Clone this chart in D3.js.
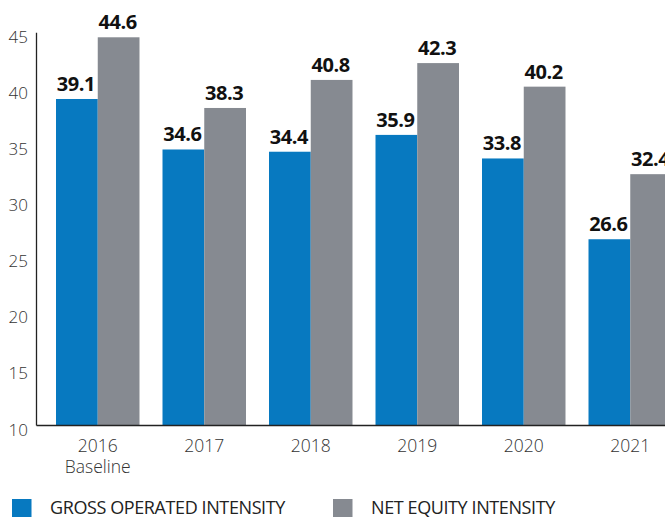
<!DOCTYPE html>
<html>
<head>
<meta charset="utf-8">
<script src="https://cdn.jsdelivr.net/npm/d3@7"></script>
<style>
  body { margin: 0; background: #fff; }
  svg { display: block; font-family: "Open Sans", "Noto Sans", sans-serif; }
</style>
</head>
<body>
<div id="chart"></div>
<script>
const years = ["2016", "2017", "2018", "2019", "2020", "2021"];
const subLabels = ["Baseline", "", "", "", "", ""];
const grossOperated = [39.1, 34.6, 34.4, 35.9, 33.8, 26.6];
const netEquity = [44.6, 38.3, 40.8, 42.3, 40.2, 32.4];
const yTicks = [10, 15, 20, 25, 30, 35, 40, 45];
const seriesNames = ["GROSS OPERATED INTENSITY", "NET EQUITY INTENSITY"];
const seriesColors = ["#0779c0", "#868a91"];

const width = 665, height = 518;
const axisX = 36.5;

const svg = d3.select("#chart").append("svg")
    .attr("width", width)
    .attr("height", height);

const y = d3.scaleLinear().domain([10, 45]).range([425.5, 32.8]);

const x = d3.scaleBand()
    .domain(years)
    .range([44.5, 683.5])
    .paddingInner(0.216)
    .paddingOuter(0.108);

const xSub = d3.scaleBand()
    .domain([0, 1])
    .range([0, x.bandwidth()]);

// bars + value labels
const series = [grossOperated, netEquity];
series.forEach((values, s) => {
    const g = svg.append("g");
    g.selectAll("rect")
        .data(values)
        .enter()
        .append("rect")
        .attr("x", (d, i) => x(years[i]) + xSub(s))
        .attr("width", xSub.bandwidth())
        .attr("y", d => y(d))
        .attr("height", d => y(10) - y(d))
        .attr("fill", seriesColors[s]);

    g.selectAll("text")
        .data(values)
        .enter()
        .append("text")
        .attr("x", (d, i) => x(years[i]) + xSub(s) + xSub.bandwidth() / 2 - 1)
        .attr("y", d => y(d) - 8)
        .attr("text-anchor", "middle")
        .attr("font-size", "20px")
        .attr("font-weight", "bold")
        .attr("letter-spacing", "-0.4px")
        .attr("fill", "#111")
        .text(d => d.toFixed(1));
});

// axis lines
svg.append("line")
    .attr("x1", axisX).attr("x2", axisX)
    .attr("y1", y(45)).attr("y2", y(10))
    .attr("stroke", "#222").attr("stroke-width", 1.3);
svg.append("line")
    .attr("x1", axisX).attr("x2", width)
    .attr("y1", y(10)).attr("y2", y(10))
    .attr("stroke", "#222").attr("stroke-width", 1.3);

// y tick labels
svg.append("g")
    .selectAll("text")
    .data(yTicks)
    .enter()
    .append("text")
    .attr("x", 28)
    .attr("y", d => y(d) + 10)
    .attr("text-anchor", "end")
    .attr("font-size", "17px")
    .attr("font-weight", 300)
    .attr("fill", "#333")
    .text(d => d);

// x labels
const xl = svg.append("g");
xl.selectAll("text.yr")
    .data(years)
    .enter()
    .append("text")
    .attr("class", "yr")
    .attr("x", d => x(d) + x.bandwidth() / 2)
    .attr("y", 452)
    .attr("text-anchor", "middle")
    .attr("font-size", "17.5px")
    .attr("font-weight", 300)
    .attr("fill", "#333")
    .text(d => d);
xl.selectAll("text.sub")
    .data(years)
    .enter()
    .append("text")
    .attr("class", "sub")
    .attr("x", d => x(d) + x.bandwidth() / 2)
    .attr("y", 473)
    .attr("text-anchor", "middle")
    .attr("font-size", "17.5px")
    .attr("font-weight", 300)
    .attr("fill", "#333")
    .text((d, i) => subLabels[i]);

// legend
const legendX = [12, 333];
const legend = svg.append("g");
seriesNames.forEach((name, i) => {
    legend.append("rect")
        .attr("x", legendX[i])
        .attr("y", 499)
        .attr("width", 19.5)
        .attr("height", 18)
        .attr("fill", seriesColors[i]);
    legend.append("text")
        .attr("x", legendX[i] + 38)
        .attr("y", 514)
        .attr("font-size", "18px")
        .attr("letter-spacing", "-0.4px")
        .attr("fill", "#222")
        .text(name);
});
</script>
</body>
</html>
